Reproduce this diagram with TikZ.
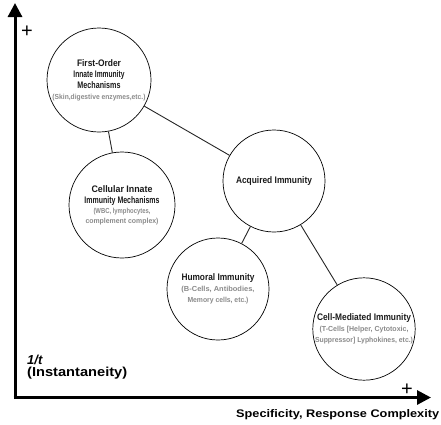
\documentclass[tikz,border=0pt]{standalone}
\usepackage{fontspec}
\setmainfont{Liberation Sans}
\usepackage{graphicx}
\usetikzlibrary{arrows.meta}
\newcommand\fitw[2]{\resizebox{#1pt}{\height}{#2}}
\definecolor{subgray}{HTML}{8A8A8A}
\definecolor{titleblk}{HTML}{1A1A1A}
\tikzset{
 circ/.style={circle, draw=black, line width=0.7pt, minimum size=#1, inner sep=0pt, align=center, text=titleblk},
 link/.style={draw=black!85, line width=0.9pt},
 axis/.style={line width=3pt, -{Triangle[length=14pt,width=14pt]}},
 lbl/.style={inner sep=0pt, text=black},
}
\newcommand\ttl[2]{{\fontsize{9.5}{10}\selectfont\bfseries\fitw{#1}{#2}}}
\newcommand\sbt[2]{{\fontsize{7.3}{8}\selectfont\bfseries\color{subgray}\fitw{#1}{#2}}}
\begin{document}
\begin{tikzpicture}[x=1pt,y=-1pt]
\useasboundingbox (0,0) rectangle (441,424);
% axes
\coordinate (O) at (15,397.5);
\coordinate (ytip) at (15,3);
\coordinate (xtip) at (431,397.5);
\draw[axis] ([yshift=-1.5pt]O) -- (ytip);
\draw[axis] ([xshift=-1.5pt]O) -- (xtip);
% circles
\node[circ=104pt] (fo) at (99,80) {\ttl{44}{First-Order}\\[-1pt] \ttl{51}{Innate Immunity}\\[-1pt] \ttl{43}{Mechanisms}\\[-1pt] \sbt{93}{(Skin,digestive enzymes,etc.)}};
\node[circ=106pt] (ce) at (122,205) {\ttl{61}{Cellular Innate}\\[-1pt] \ttl{75}{Immunity Mechanisms}\\[-2pt] \sbt{57}{(WBC, lymphocytes,}\\[-2pt] \sbt{73}{complement complex)}};
\node[circ=102pt] (aq) at (274,181) {\ttl{76}{Acquired Immunity}};
\node[circ=102pt] (hu) at (218,289) {\ttl{73}{Humoral Immunity}\\[-1pt] \sbt{73}{(B-Cells, Antibodies,}\\[-1pt] \sbt{61}{Memory cells, etc.)}};
\node[circ=102pt] (cm) at (364,329) {\ttl{94}{Cell-Mediated Immunity}\\[-1pt] \sbt{89}{(T-Cells [Helper, Cytotoxic,}\\[-1pt] \sbt{98}{Suppressor] Lyphokines, etc.)}};
% connectors
\draw[link] (fo) -- (ce);
\draw[link] (fo) -- (aq);
\draw[link] (aq) -- (hu);
\draw[link] (aq) -- (cm);
% axis labels
\node[lbl, font=\fontsize{20}{20}\selectfont] (p1) at (27,32) {+};
\node[lbl, font=\fontsize{20}{20}\selectfont] (p2) at (407,390) {+};
\node[lbl, anchor=base west, font=\fontsize{13}{13}\selectfont\bfseries\itshape] (ot) at (27,364) {1/t};
\node[lbl, anchor=base west, font=\fontsize{13}{13}\selectfont\bfseries] (inst) at (27,376) {\fitw{100}{(Instantaneity)}};
\node[lbl, anchor=base west, font=\fontsize{11}{11}\selectfont\bfseries] (spec) at (236,417) {\fitw{203}{Specificity, Response Complexity}};
\end{tikzpicture}
\end{document}
